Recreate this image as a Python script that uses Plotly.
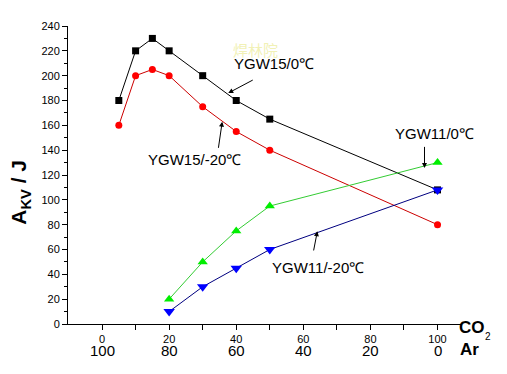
import plotly.graph_objects as go

# ---- data ----
x15 = [5, 10, 15, 20, 30, 40, 50, 100]
ygw15_0 = [180, 220, 230, 220, 200, 180, 165, 108]
ygw15_m20 = [160, 200, 205, 200, 175, 155, 140, 80]
x11 = [20, 30, 40, 50, 100]
ygw11_0 = [20, 50, 75, 95, 130]
ygw11_m20 = [10, 30, 45, 60, 108]

co2_ticks = [0, 20, 40, 60, 80, 100]
ar_labels = ["100", "80", "60", "40", "20", "0"]
y_ticks = list(range(0, 241, 20))

FONT = "Arial, Liberation Sans, sans-serif"

OFF = 8
PL, PR, PT, PB = 68, 461, 22, 324
XR = [-10.15, 107.0]

fig = go.Figure()
fig.add_trace(go.Scatter(x=x15, y=ygw15_0, mode="lines+markers",
                         line=dict(color="black", width=1),
                         marker=dict(symbol="square", size=7, color="black"),
                         name="YGW15/0℃"))
fig.add_trace(go.Scatter(x=x15, y=ygw15_m20, mode="lines+markers",
                         line=dict(color="#cc0000", width=1),
                         marker=dict(symbol="circle", size=7, color="#ff0000"),
                         name="YGW15/-20℃"))
fig.add_trace(go.Scatter(x=x11, y=ygw11_0, mode="lines+markers",
                         line=dict(color="#33cc33", width=1),
                         marker=dict(symbol="triangle-up", size=9, color="#00ee00"),
                         name="YGW11/0℃"))
fig.add_trace(go.Scatter(x=x11, y=ygw11_m20, mode="lines+markers",
                         line=dict(color="#000080", width=1),
                         marker=dict(symbol="triangle-down", size=10, color="#0000ff"),
                         name="YGW11/-20℃"))

def dx(px):
    return (px - 102) / 3.35

def dy(py):
    return (324 - py) / 1.2583

def pxp(px):
    return (px - PL) / (PR - PL)

def pyp(py):
    return (PB - py) / (PB - PT)

def ptext(px, py, text, size, **kw):
    return dict(x=pxp(px), y=pyp(py), xref="paper", yref="paper", text=text,
                xanchor="center", yanchor="middle", showarrow=False,
                font=dict(size=size, color=kw.pop("color", "black"),
                          family=kw.pop("family", FONT)), **kw)

anns = []
for txt, (px, py) in [("YGW15/0℃", (274, 60)), ("YGW15/-20℃", (194, 157)),
                      ("YGW11/0℃", (434, 131)), ("YGW11/-20℃", (318, 267))]:
    anns.append(ptext(px, py, txt, 15))
for (hx, hy), (tx, ty) in [((228, 90), (254, 76)), ((222, 119), (218, 147)),
                           ((424, 166), (424, 143)), ((317, 230), (313, 251))]:
    anns.append(dict(x=dx(hx), y=dy(hy), ax=dx(tx), ay=dy(ty), axref="x", ayref="y",
                     text="", showarrow=True, arrowhead=2, arrowsize=1,
                     arrowwidth=1, arrowcolor="black", standoff=0, startstandoff=0))
for xv, lab in zip(co2_ticks, ar_labels):
    anns.append(dict(x=(xv - XR[0]) / (XR[1] - XR[0]), y=pyp(351), xref="paper",
                     yref="paper", text=lab, xanchor="center", yanchor="middle",
                     showarrow=False, font=dict(size=15, color="black", family=FONT)))
anns.append(ptext(472, 328, "<b>CO</b>", 17))
anns.append(ptext(488, 337, "2", 10))
anns.append(ptext(470, 350, "<b>Ar</b>", 17))
anns.append(ptext(20, 191, "<b>A<sub>KV</sub> / J</b>", 21, textangle=-90))
anns.append(ptext(255, 46, "焊林院", 15, color="rgba(235,235,150,0.7)",
                  family="Noto Sans CJK SC"))

fig.update_layout(
    width=507, height=374,
    margin=dict(l=PL - OFF, r=507 - (PR - OFF), t=PT - OFF, b=374 - (PB - OFF)),
    paper_bgcolor="white", plot_bgcolor="white",
    showlegend=False,
    font=dict(family=FONT, color="black"),
    annotations=anns,
    xaxis=dict(range=XR, tickmode="array", tickvals=co2_ticks,
               ticktext=[str(v) for v in co2_ticks],
               tickfont=dict(size=11, family=FONT),
               ticks="outside", ticklen=5, tickwidth=1, tickcolor="black",
               showline=True, linecolor="black", linewidth=1,
               showgrid=False, zeroline=False,
               minor=dict(tickvals=[10, 30, 50, 70, 90], ticks="outside", ticklen=5,
                          tickcolor="black", showgrid=False)),
    yaxis=dict(range=[0, 240], tickmode="array", tickvals=y_ticks,
               tickfont=dict(size=11, family=FONT),
               ticks="outside", ticklen=5, tickwidth=1, tickcolor="black",
               showline=True, linecolor="black", linewidth=1,
               showgrid=False, zeroline=False,
               minor=dict(tickvals=list(range(10, 240, 20)), ticks="outside", ticklen=3,
                          tickcolor="black", showgrid=False)),
)

fig.write_html("out.html")
